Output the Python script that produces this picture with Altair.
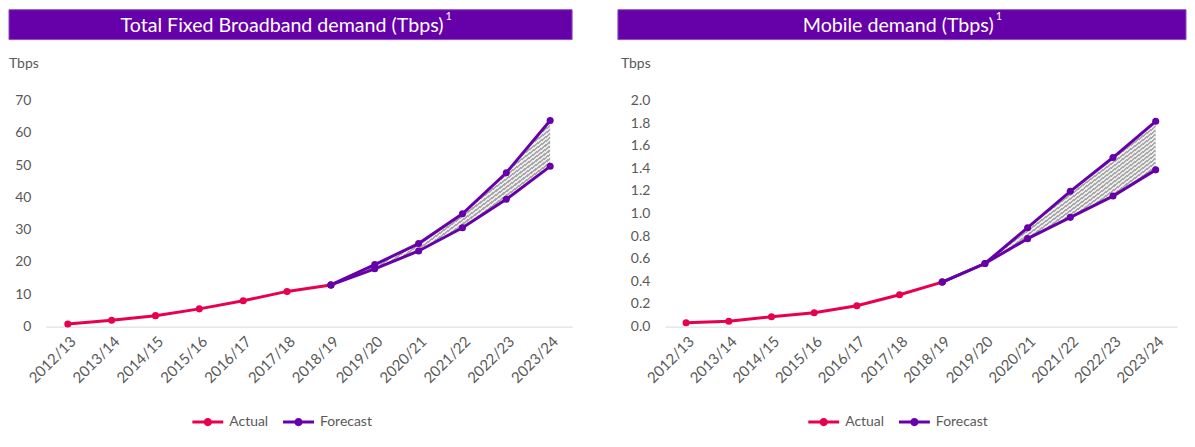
import altair as alt
import pandas as pd

years = ["2012/13", "2013/14", "2014/15", "2015/16", "2016/17", "2017/18",
         "2018/19", "2019/20", "2020/21", "2021/22", "2022/23", "2023/24"]
actual_years = years[:7]
forecast_years = years[6:]

fixed_actual = [0.8, 2.0, 3.4, 5.5, 8.0, 10.9, 12.9]
fixed_high = [12.9, 19.2, 25.7, 34.9, 47.6, 63.8]
fixed_low = [12.9, 17.9, 23.4, 30.6, 39.4, 49.6]

mobile_actual = [0.035, 0.047, 0.088, 0.123, 0.185, 0.282, 0.394]
mobile_high = [0.394, 0.558, 0.875, 1.196, 1.495, 1.815]
mobile_low = [0.394, 0.558, 0.778, 0.966, 1.154, 1.386]

fixed_ticks = [0, 10, 20, 30, 40, 50, 60, 70]
mobile_ticks = [0.0, 0.2, 0.4, 0.6, 0.8, 1.0, 1.2, 1.4, 1.6, 1.8, 2.0]

series_names = ["Actual", "Forecast"]
series_colors = ["#E8004F", "#6600A8"]
BAR = "#6600A8"
LABEL = "#595959"
FONT = "Lato"

LEGEND_PATH = ("M-1,-0.1 L1,-0.1 L1,0.1 L-1,0.1 Z "
               "M-0.27,0 A0.27,0.27 0 1,1 0.27,0 A0.27,0.27 0 1,1 -0.27,0 Z")


def hatch(n, c1="#a9a9a9", c2="#ececec"):
    stops = []
    for k in range(n):
        a, b, c = k / n, (k + 0.5) / n, (k + 1) / n
        stops += [alt.GradientStop(color=c1, offset=a),
                  alt.GradientStop(color=c1, offset=b),
                  alt.GradientStop(color=c2, offset=b),
                  alt.GradientStop(color=c2, offset=c)]
    return alt.LinearGradient(gradient="linear", stops=stops,
                              x1=0, y1=0, x2=1, y2=1)


def panel(title, title_end, actual, high, low, ticks, ymax, fmt,
          width, height, bar_x, bar_x2, tbps_x, legend_x, n_hatch):
    rows = []
    for yr, v in zip(actual_years, actual):
        rows.append({"year": yr, "value": v, "series": "Actual", "line": "Actual"})
    for yr, v in zip(forecast_years, high):
        rows.append({"year": yr, "value": v, "series": "Forecast", "line": "High"})
    for yr, v in zip(forecast_years, low):
        rows.append({"year": yr, "value": v, "series": "Forecast", "line": "Low"})
    df = pd.DataFrame(rows)
    band = pd.DataFrame({"year": forecast_years, "hi": high, "lo": low})
    one = pd.DataFrame({"t": [title]})

    xenc = alt.X("year:O", sort=years, title=None,
                 axis=alt.Axis(labelAngle=-45, ticks=False, domainColor="#d9d9d9",
                               domainWidth=1, labelFontSize=15, labelColor=LABEL,
                               labelFont=FONT, labelPadding=7, grid=False))
    yscale = alt.Scale(domain=[0, ymax], nice=False)
    yaxis = alt.Axis(values=ticks, format=fmt, domain=False, ticks=False, grid=False,
                     labelPadding=15, labelFontSize=14, labelColor=LABEL,
                     labelFont=FONT, title=None)
    cscale = alt.Scale(domain=series_names, range=series_colors)
    legend = alt.Legend(title=None, orient="none", direction="horizontal",
                        legendX=legend_x, legendY=307, padding=0,
                        symbolType=LEGEND_PATH, symbolSize=961,
                        symbolStrokeWidth=0, labelFontSize=14,
                        labelFont=FONT, labelColor=LABEL,
                        labelOffset=6, columnPadding=14)

    bar = alt.Chart(one).mark_rect(color=BAR, stroke="#8a4cc0", strokeWidth=1).encode(
        x=alt.value(bar_x), x2=alt.value(bar_x2), y=alt.value(-91), y2=alt.value(-61))
    ttl = alt.Chart(one).mark_text(color="white", font=FONT, fontSize=19.7,
                                   align="right", baseline="middle").encode(
        text="t:N", x=alt.value(title_end), y=alt.value(-75))
    sup = alt.Chart(one).mark_text(text="1", color="white", font=FONT, fontSize=11,
                                   align="left", baseline="middle").encode(
        x=alt.value(title_end + 2), y=alt.value(-84))
    tbps = alt.Chart(one).mark_text(text="Tbps", color=LABEL, font=FONT, fontSize=14,
                                    align="left", baseline="middle").encode(
        x=alt.value(tbps_x), y=alt.value(-37))

    area = alt.Chart(band).mark_area(fill=hatch(n_hatch), opacity=1).encode(
        x=xenc, y=alt.Y("hi:Q", scale=yscale, axis=yaxis), y2="lo:Q")
    lines = alt.Chart(df).mark_line(strokeWidth=3).encode(
        x=xenc, y=alt.Y("value:Q", scale=yscale, axis=yaxis),
        color=alt.Color("series:N", scale=cscale, legend=legend),
        detail="line:N")
    pts = alt.Chart(df).mark_circle(size=50, opacity=1).encode(
        x=xenc, y=alt.Y("value:Q", scale=yscale, axis=yaxis),
        color=alt.Color("series:N", scale=cscale, legend=legend))
    return alt.layer(bar, ttl, sup, tbps, area, lines, pts).properties(
        width=width, height=height)


left = panel("Total Fixed Broadband demand (Tbps)", 399, fixed_actual, fixed_high,
             fixed_low, fixed_ticks, 70, "d", 528, 227, -37, 528, -37, 147, 80)
right = panel("Mobile demand (Tbps)", 330, mobile_actual, mobile_high,
              mobile_low, mobile_ticks, 2.0, ".1f", 514, 227, -47, 523, -44, 144, 80)

chart = alt.hconcat(left, right, spacing=44).resolve_scale(
    color="independent"
).resolve_legend(color="independent").properties(
    padding=0, background="white"
).configure_view(stroke=None)

chart.save("out.html", embed_options={"renderer": "svg", "actions": False})
